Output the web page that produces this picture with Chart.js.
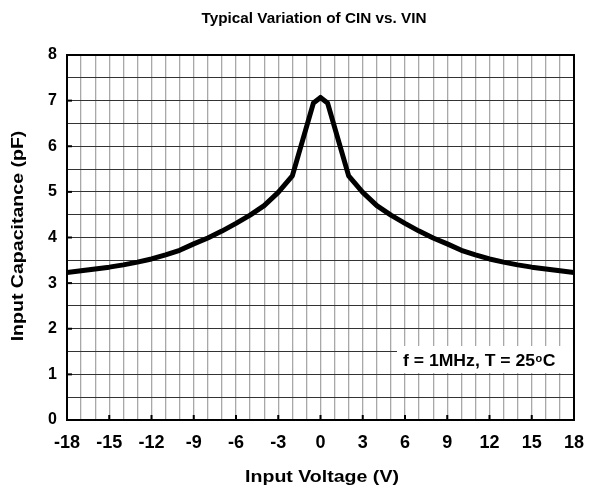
<!DOCTYPE html>
<html><head><meta charset="utf-8">
<script src="https://cdn.jsdelivr.net/npm/chart.js@4.4.1/dist/chart.umd.min.js"></script>
<style>html,body{margin:0;padding:0;background:#fff}#wrap{width:596px;height:496px}</style>
</head><body><div id="wrap"><canvas id="c" width="596" height="496"></canvas></div>
<script>
const voltages = [-18,-17,-16,-15,-14,-13,-12,-11,-10,-9,-8,-7,-6,-5,-4,-3,-2,-0.5,0,0.5,2,3,4,5,6,7,8,9,10,11,12,13,14,15,16,17,18];
const capacitance = [3.23,3.27,3.31,3.35,3.40,3.46,3.53,3.62,3.72,3.86,3.99,4.14,4.31,4.49,4.70,4.99,5.35,6.95,7.07,6.95,5.35,4.99,4.70,4.49,4.31,4.14,3.99,3.86,3.72,3.62,3.53,3.46,3.40,3.35,3.31,3.27,3.23];
const xTicks = [-18,-15,-12,-9,-6,-3,0,3,6,9,12,15,18];
const yTicks = [0,1,2,3,4,5,6,7,8];
const titleText = 'Typical Variation of CIN vs. VIN';
const xTitle = 'Input Voltage (V)';
const yTitle = 'Input Capacitance (pF)';
const FONT = '"Liberation Sans", Arial, sans-serif';

function stretchText(ctx, text, x, y, sx) {
  ctx.save(); ctx.translate(x, y); ctx.scale(sx, 1); ctx.fillText(text, 0, 0); ctx.restore();
}

const extras = {
  id: 'extras',
  afterDraw(chart) {
    const ctx = chart.ctx, ca = chart.chartArea;
    const xs = chart.scales.x, ys = chart.scales.y;
    ctx.save();
    ctx.strokeStyle = '#000'; ctx.lineWidth = 2;
    yTicks.forEach(v => { const y = ys.getPixelForValue(v); ctx.beginPath(); ctx.moveTo(ca.left, y); ctx.lineTo(ca.left + 5, y); ctx.stroke(); });
    xTicks.forEach(v => { const x = xs.getPixelForValue(v); ctx.beginPath(); ctx.moveTo(x, ca.bottom); ctx.lineTo(x, ca.bottom - 5); ctx.stroke(); });
    ctx.lineWidth = 2;
    ctx.strokeRect(ca.left, ca.top, ca.right - ca.left, ca.bottom - ca.top);
    ctx.fillStyle = '#000';
    ctx.textAlign = 'center'; ctx.textBaseline = 'middle';
    ctx.font = 'bold 15px ' + FONT;
    stretchText(ctx, titleText, 314, 19, 1.02);
    ctx.font = 'bold 17px ' + FONT;
    stretchText(ctx, xTitle, 322, 477, 1.15);
    ctx.save(); ctx.translate(18, 236); ctx.rotate(-Math.PI/2); ctx.scale(1.15, 1); ctx.fillText(yTitle, 0, 0); ctx.restore();
    // annotation box
    const bx = 397, by = 346, bw = ca.right - 1 - bx, bh = 27;
    ctx.fillStyle = '#fff'; ctx.fillRect(bx, by, bw, bh);
    ctx.fillStyle = '#000';
    ctx.textAlign = 'left'; ctx.textBaseline = 'alphabetic';
    const sx = 1.1;
    ctx.save(); ctx.translate(403, 366); ctx.scale(sx, 1);
    ctx.font = 'bold 16px ' + FONT;
    const t1 = 'f = 1MHz, T = 25';
    let x = 0;
    ctx.fillText(t1, x, 0); x += ctx.measureText(t1).width;
    ctx.font = 'bold 10px ' + FONT;
    ctx.fillText('o', x + 0.5, -4); x += ctx.measureText('o').width + 1;
    ctx.font = 'bold 16px ' + FONT;
    ctx.fillText('C', x, 0);
    ctx.restore();
    ctx.restore();
  }
};

new Chart(document.getElementById('c'), {
  type: 'line',
  data: {
    datasets: [{
      data: voltages.map((v, i) => ({x: v, y: capacitance[i]})),
      borderColor: '#000', borderWidth: 5, pointRadius: 0, tension: 0, fill: false,
      borderJoinStyle: 'round'
    }]
  },
  options: {
    responsive: false, animation: false,
    layout: {padding: {left: 0, top: 55, right: 21, bottom: 0}},
    plugins: {legend: {display: false}, tooltip: {enabled: false}, title: {display: false}},
    scales: {
      x: {
        type: 'linear', min: -18, max: 18,
        afterBuildTicks: s => { s.ticks = []; for (let v = -18; v <= 18; v++) s.ticks.push({value: v}); },
        afterFit: s => { s.height = 76; },
        ticks: {
          autoSkip: false, maxRotation: 0, padding: 12,
          color: '#000', font: {family: FONT, size: 18, weight: 'bold'},
          callback: v => xTicks.includes(v) ? String(v) : ''
        },
        grid: {color: '#a8a8a8', lineWidth: 1.3, drawTicks: false},
        border: {display: false}
      },
      y: {
        type: 'linear', min: 0, max: 8,
        afterBuildTicks: s => { s.ticks = []; for (let v = 0; v <= 8; v += 0.5) s.ticks.push({value: v}); },
        afterFit: s => { s.width = 67; },
        ticks: {
          autoSkip: false, padding: 10,
          color: '#000', font: {family: FONT, size: 16, weight: 'bold'},
          callback: v => yTicks.includes(v) ? String(v) : ''
        },
        grid: {color: '#333', lineWidth: 1, drawTicks: false},
        border: {display: false}
      }
    }
  },
  plugins: [extras]
});
</script>
</body></html>
